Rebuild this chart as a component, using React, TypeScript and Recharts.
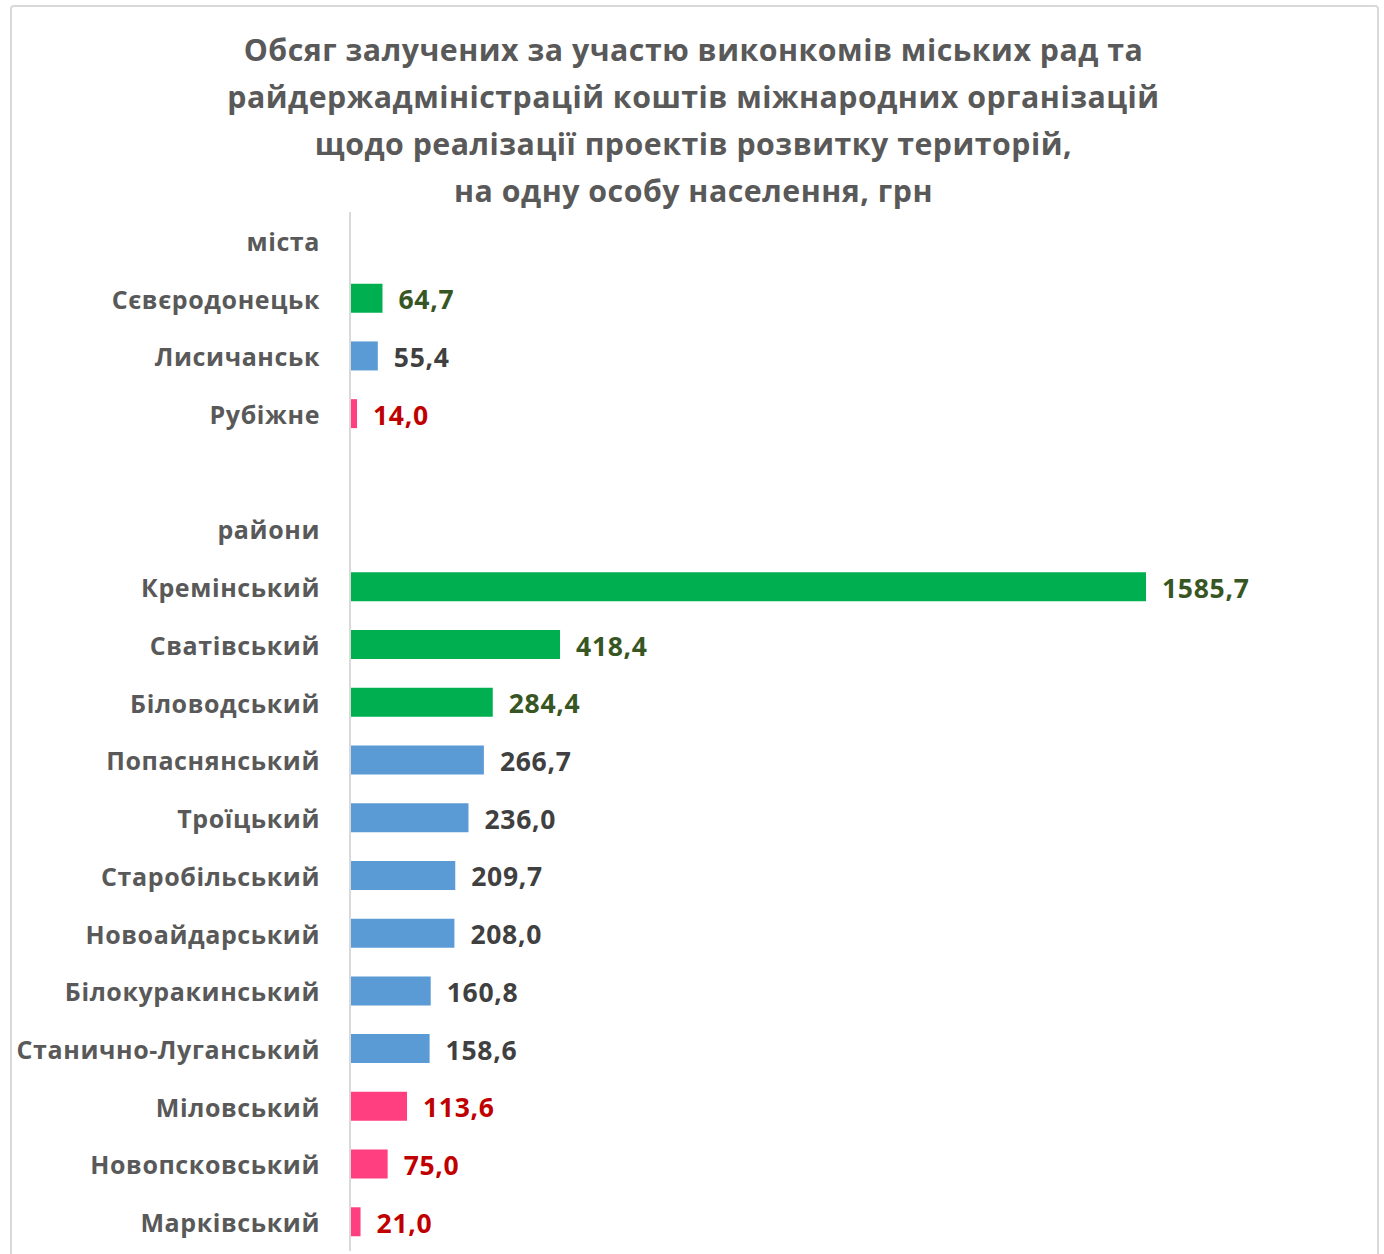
import React from 'react'
import { BarChart, Bar, XAxis, YAxis, Cell, LabelList } from 'recharts'

const categories = [
  'міста',
  'Сєвєродонецьк',
  'Лисичанськ',
  'Рубіжне',
  '',
  'райони',
  'Кремінський',
  'Сватівський',
  'Біловодський',
  'Попаснянський',
  'Троїцький',
  'Старобільський',
  'Новоайдарський',
  'Білокуракинський',
  'Станично-Луганський',
  'Міловський',
  'Новопсковський',
  'Марківський',
]

const values: (number | null)[] = [
  null, 64.7, 55.4, 14.0, null, null,
  1585.7, 418.4, 284.4, 266.7, 236.0, 209.7, 208.0, 160.8, 158.6, 113.6, 75.0, 21.0,
]

// g = leader, b = middle, r = lagging
const groups = ['', 'g', 'b', 'r', '', '', 'g', 'g', 'g', 'b', 'b', 'b', 'b', 'b', 'b', 'r', 'r', 'r']

const titleLines = [
  'Обсяг залучених за участю виконкомів міських рад та',
  'райдержадміністрацій коштів міжнародних організацій',
  'щодо реалізації проектів розвитку територій,',
  'на одну особу населення, грн',
]

const barColors: Record<string, string> = { g: '#00B050', b: '#5B9BD5', r: '#FF3F7F' }
const labelColors: Record<string, string> = { g: '#375623', b: '#404040', r: '#C00000' }

const data = categories.map((name, i) => ({ name, value: values[i], group: groups[i] }))

const FONT = '"Open Sans", sans-serif'

const CategoryTick = (props: any) => {
  const { y, payload } = props
  return (
    <text x={320} y={y} textAnchor="end" dominantBaseline="central" fill="#595959"
      fontFamily={FONT} fontWeight={700} fontSize={25} letterSpacing={0.6}>
      {payload.value}
    </text>
  )
}

const ValueLabel = (props: any) => {
  const { x, y, width, height, value } = props
  if (value == null) return null
  const row = data.find((d) => d.value === value)
  const g = row ? row.group : 'b'
  return (
    <text x={x + width + 16} y={y + height / 2 + 1} dominantBaseline="central" fill={labelColors[g]}
      fontFamily={FONT} fontWeight={700} fontSize={26.5} letterSpacing={0.7}>
      {value.toFixed(1).replace('.', ',')}
    </text>
  )
}

export default function App() {
  return (
    <div style={{ position: 'absolute', left: 0, top: 0, width: 1384, height: 1254, background: '#fff', overflow: 'hidden' }}>
      <div style={{ position: 'absolute', left: 10, top: 5, width: 1365, height: 1260, border: '2px solid #D9D9D9', borderRadius: 4 }} />
      <div style={{ position: 'absolute', left: 10, width: 1367, top: 26, textAlign: 'center', fontFamily: FONT, fontWeight: 700, fontSize: 30.3, letterSpacing: 0.5, lineHeight: '47px', color: '#595959' }}>
        {titleLines.map((l) => <div key={l}>{l}</div>)}
      </div>
      <div style={{ position: 'absolute', left: 0, top: 0 }}>
        <BarChart width={1384} height={1254} data={data} layout="vertical"
          margin={{ top: 212, right: 30, bottom: 3, left: 0 }} barSize={29}>
          <XAxis type="number" domain={[0, 2000]} hide />
          <YAxis type="category" dataKey="name" width={350} axisLine={{ stroke: '#D9D9D9', strokeWidth: 2 }}
            tickLine={false} tick={<CategoryTick />} interval={0} />
          <Bar dataKey="value" isAnimationActive={false}>
            {data.map((d, i) => <Cell key={i} fill={barColors[d.group] || '#fff'} />)}
            <LabelList dataKey="value" content={<ValueLabel />} />
          </Bar>
        </BarChart>
      </div>
    </div>
  )
}
